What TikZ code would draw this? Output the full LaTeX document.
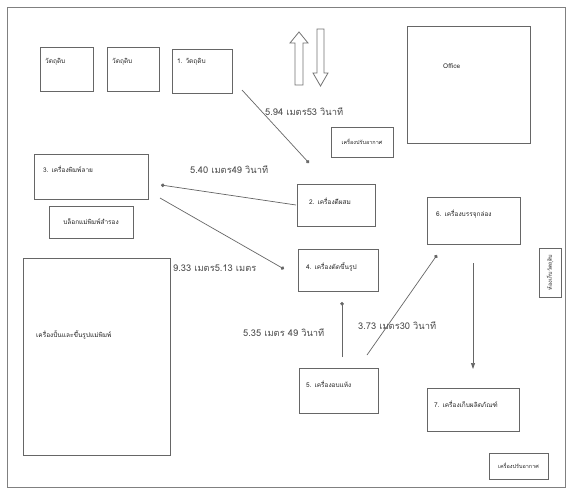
\documentclass[tikz,border=0pt]{standalone}
\usepackage{fontspec}
\setmainfont[Script=Thai]{Loma}
\usetikzlibrary{arrows.meta}

\tikzset{
  box/.style={draw=black!60, line width=0.9pt, inner sep=0pt, anchor=north west},
  txt/.style={text=black!85, font=\fontsize{6.5}{7}\selectfont, inner sep=0pt, anchor=west},
  smalltxt/.style={txt, font=\fontsize{5.5}{6}\selectfont, anchor=center},
  lbl/.style={text=black!70, font=\fontsize{9.3}{10}\selectfont, inner sep=0pt, anchor=west},
  link/.style={draw=black!60, line width=0.7pt},
  dotend/.style={link, -{Circle[length=3.6pt]}},
  flow/.style={link, -{Triangle[length=6pt,width=4pt]}},
  blockarrow/.style={draw=black!55, line width=0.8pt, fill=white, line join=miter},
}

\begin{document}
\begin{tikzpicture}[x=1pt,y=-1pt]
\useasboundingbox (0,0) rectangle (572,495);
\fill[white] (0,0) rectangle (572,495);
\draw[black!50, line width=0.8pt] (7,7) rectangle (565,487);

% raw material stores
\node[box, minimum width=53pt, minimum height=44pt] (r1) at (40,47) {};
\node[txt] (r1t) at (45,62) {วัตถุดิบ};
\node[box, minimum width=52pt, minimum height=44pt] (r2) at (107,47) {};
\node[txt] (r2t) at (112,62) {วัตถุดิบ};
\node[box, minimum width=60pt, minimum height=44pt] (r3) at (172,49) {};
\node[txt] (r3t) at (177,62) {1. วัตถุดิบ};

% entrance / exit arrows
\draw[blockarrow] (295,85) -- (295,43) -- (290,43) -- (299,32) -- (308,43) -- (303,43) -- (303,85) -- cycle;
\draw[blockarrow] (317,29) -- (324,29) -- (324,73) -- (328,73) -- (320.5,86) -- (313,73) -- (317,73) -- cycle;

% office and air conditioners
\node[box, minimum width=123pt, minimum height=117pt] (office) at (407,26) {};
\node[txt] (officet) at (443,66) {Office};
\node[box, minimum width=62pt, minimum height=30pt] (ac1) at (331,127) {};
\node[smalltxt] (ac1t) at (362,142) {เครื่องปรับอากาศ};

% stations
\node[box, minimum width=114pt, minimum height=45pt] (m3) at (34,154) {};
\node[txt] (m3t) at (43,169) {3. เครื่องพิมพ์ลาย};
\node[box, minimum width=84pt, minimum height=32pt] (mold) at (49,206) {};
\node[txt, anchor=center] (moldt) at (91,222) {บล็อกแม่พิมพ์สำรอง};

\node[box, minimum width=78pt, minimum height=42pt] (m2) at (297,184) {};
\node[txt] (m2t) at (309,201) {2. เครื่องตีผสม};
\node[box, minimum width=80pt, minimum height=42pt] (m4) at (298,249) {};
\node[txt] (m4t) at (306,267) {4. เครื่องตัดขึ้นรูป};
\node[box, minimum width=79pt, minimum height=45pt] (m5) at (299,368) {};
\node[txt] (m5t) at (306,384) {5. เครื่องอบแห้ง};
\node[box, minimum width=93pt, minimum height=47pt] (m6) at (427,197) {};
\node[txt] (m6t) at (436,214) {6. เครื่องบรรจุกล่อง};
\node[box, minimum width=92pt, minimum height=43pt] (m7) at (427,388) {};
\node[txt] (m7t) at (434,404) {7. เครื่องเก็บผลิตภัณฑ์};

\node[box, minimum width=22pt, minimum height=49pt] (store) at (539,248) {};
\node[smalltxt, rotate=90] (storet) at (550,272.5) {ห้องเก็บวัตถุดิบ};
\node[box, minimum width=59pt, minimum height=26pt] (ac2) at (489,453) {};
\node[smalltxt] (ac2t) at (518.5,466) {เครื่องปรับอากาศ};

\node[box, minimum width=147pt, minimum height=197pt] (big) at (23,258) {};
\node[txt] (bigt) at (36,335) {เครื่องปั้นและขึ้นรูปแม่พิมพ์};

% connector end points
\coordinate (c1a) at (242,90);  \coordinate (c1b) at (309,163);
\coordinate (c2a) at (296,205); \coordinate (c2b) at (161,185);
\coordinate (c3a) at (160,198); \coordinate (c3b) at (284,269);
\coordinate (c4a) at (342,357); \coordinate (c4b) at (342,302);
\coordinate (c5a) at (367,355); \coordinate (c5b) at (437,255);
\coordinate (c6a) at (473,263); \coordinate (c6b) at (473,369);

\draw[dotend] (c1a) -- (c1b);
\draw[dotend] (c2a) -- (c2b);
\draw[dotend] (c3a) -- (c3b);
\draw[dotend] (c4a) -- (c4b);
\draw[dotend] (c5a) -- (c5b);
\draw[flow] (c6a) -- (c6b);

% distances and times
\node[lbl] (d1) at (265,112) {5.94 เมตร53 วินาที};
\node[lbl] (d2) at (190,170) {5.40 เมตร49 วินาที};
\node[lbl] (d3) at (173,268) {9.33 เมตร5.13 เมตร};
\node[lbl] (d4) at (243,333) {5.35 เมตร 49 วินาที};
\node[lbl] (d5) at (358,326) {3.73 เมตร30 วินาที};
\end{tikzpicture}
\end{document}
